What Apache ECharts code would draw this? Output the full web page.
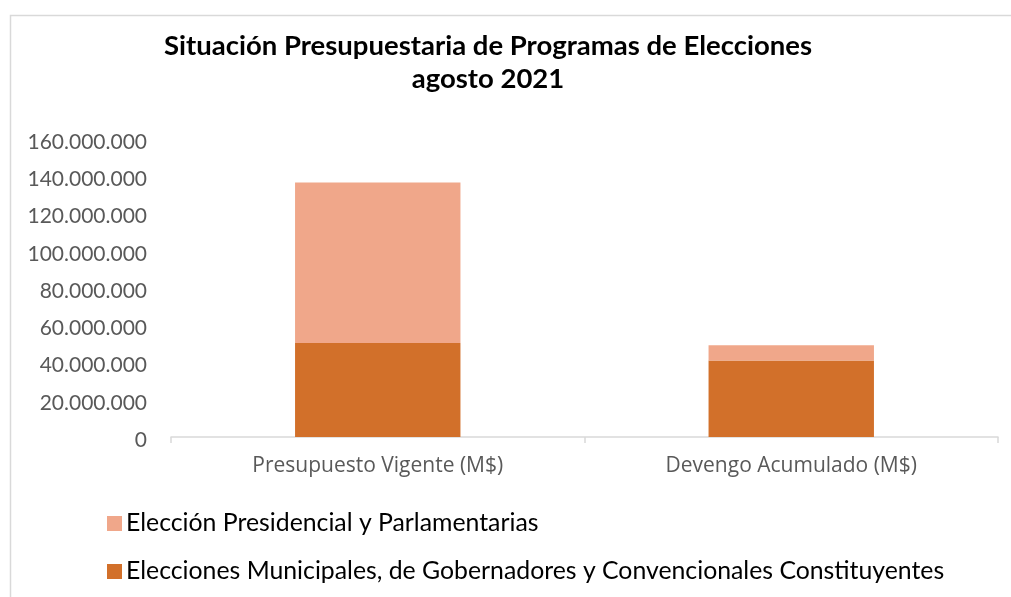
<!DOCTYPE html>
<html><head><meta charset="utf-8">
<script src="https://cdn.jsdelivr.net/npm/echarts@6/dist/echarts.min.js"></script>
<style>html,body{margin:0;padding:0;background:#fff}#c{width:1011px;height:597px}</style>
</head><body><div id="c"></div>
<script>
const categories = ['Presupuesto Vigente (M$)', 'Devengo Acumulado (M$)'];
const municipales = [50500000, 41100000];
const presidencial = [86100000, 8200000];
const seriesNames = ['Elección Presidencial y Parlamentarias', 'Elecciones Municipales, de Gobernadores y Convencionales Constituyentes'];
const yTicks = { min: 0, max: 160000000, interval: 20000000 };

const fmt = v => String(v).replace(/\B(?=(\d{3})+(?!\d))/g, '.');
const legendText = { fontFamily: 'Lato', fontSize: 24.8, color: '#000', padding: [0, 0, 0, -1] };
const chart = echarts.init(document.getElementById('c'), null, { renderer: 'canvas' });
chart.setOption({
  backgroundColor: '#fff',
  animation: false,
  title: {
    text: 'Situación Presupuestaria de Programas de Elecciones\nagosto 2021',
    left: 483, top: 25, textAlign: 'center',
    textStyle: { fontFamily: 'Lato', fontWeight: 'bold', fontSize: 27.5, color: '#000', lineHeight: 33 }
  },
  graphic: [{
    type: 'polyline', silent: true,
    shape: { points: [[10.5, 597], [10.5, 15.5], [1011, 15.5]] },
    style: { stroke: '#d9d9d9', lineWidth: 1.5, fill: null }
  }],
  legend: [
    { left: 107, top: 511, itemWidth: 15, itemHeight: 15, icon: 'rect', padding: 0,
      data: [seriesNames[0]], textStyle: legendText },
    { left: 107, top: 559, itemWidth: 15, itemHeight: 15, icon: 'rect', padding: 0,
      data: [seriesNames[1]], textStyle: legendText }
  ],
  grid: { left: 171, right: 13, top: 139, bottom: 160, containLabel: false },
  xAxis: {
    type: 'category', data: categories,
    axisLine: { lineStyle: { color: '#d9d9d9', width: 1.5 } },
    axisTick: { show: true, length: 6, lineStyle: { color: '#d9d9d9', width: 1.5 } },
    axisLabel: { fontFamily: 'Open Sans', fontSize: 21, color: '#595959', margin: 19 }
  },
  yAxis: {
    type: 'value', min: yTicks.min, max: yTicks.max, interval: yTicks.interval,
    splitLine: { show: false }, axisLine: { show: false }, axisTick: { show: false },
    axisLabel: { fontFamily: 'Lato', fontSize: 21, color: '#595959', margin: 24, formatter: fmt, verticalAlign: 'top', lineHeight: 6 }
  },
  series: [
    { name: seriesNames[1], type: 'bar', stack: 's', data: municipales, barCategoryGap: '60%',
      itemStyle: { color: '#d2702a' } },
    { name: seriesNames[0], type: 'bar', stack: 's', data: presidencial,
      itemStyle: { color: '#f0a78a' } }
  ]
});
</script></body></html>
